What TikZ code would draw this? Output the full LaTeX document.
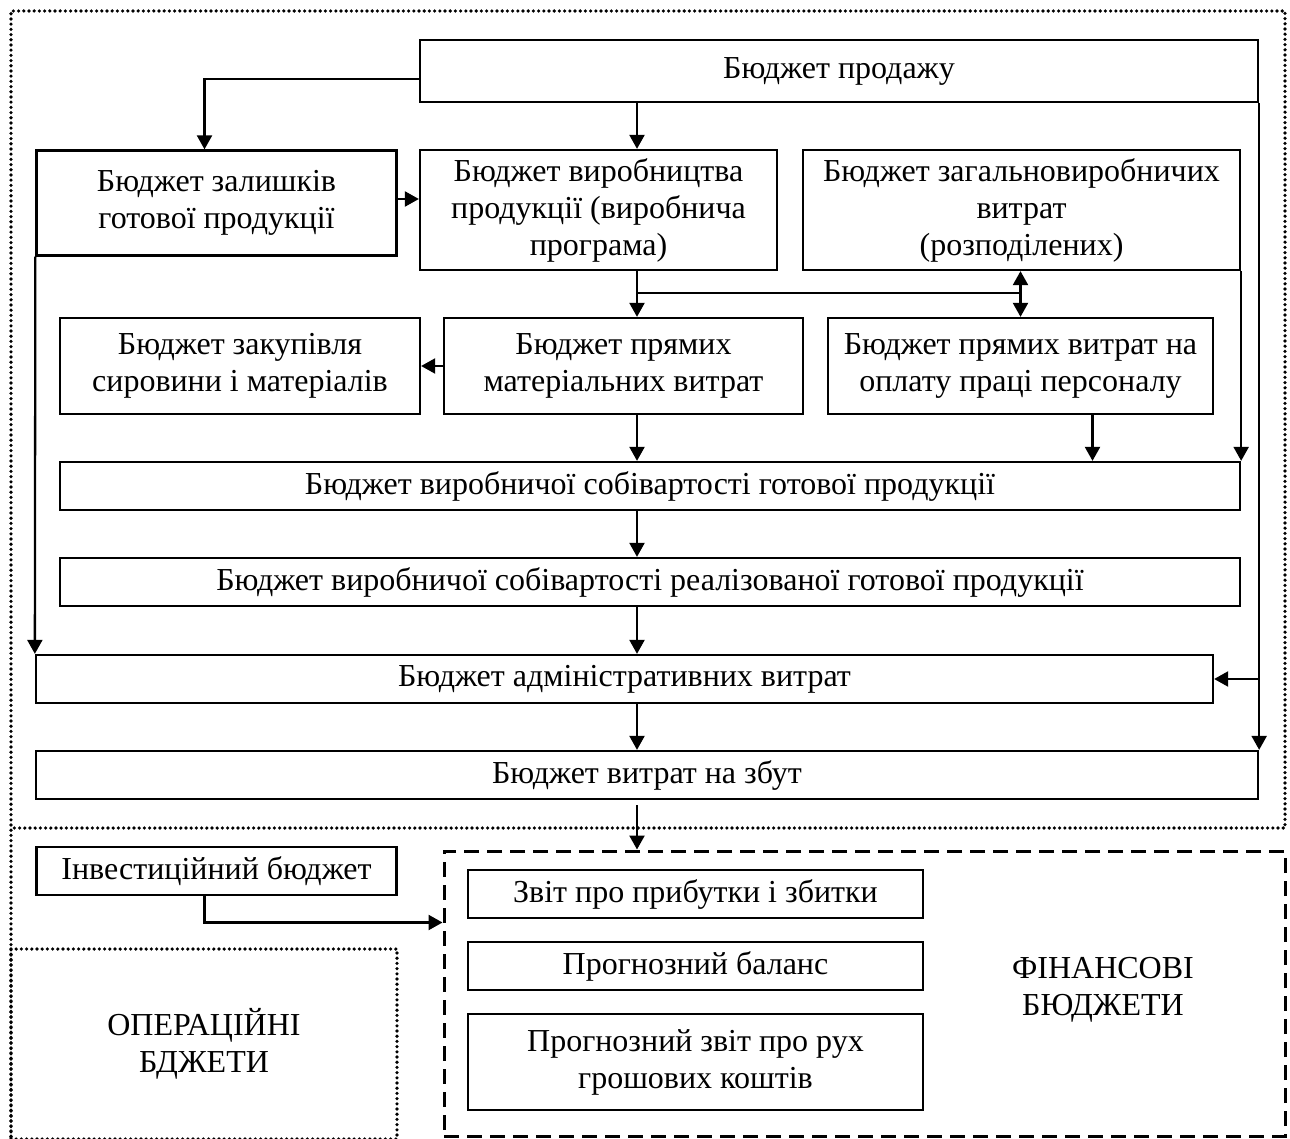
\documentclass[tikz,border=0pt]{standalone}
\usepackage{fontspec}
\setmainfont{Liberation Serif}
\usetikzlibrary{arrows.meta}

\begin{document}
\begin{tikzpicture}[
    x=0.5pt, y=-0.5pt,
    every node/.style={font=\fontsize{16}{18.5}\selectfont},
    box/.style={draw, line width=1.15pt, align=center, inner sep=0pt},
    wh/.style 2 args={minimum width=#1*0.5pt, minimum height=#2*0.5pt},
    arrow/.style={-{Triangle[length=7pt, width=7.5pt]}, line width=1.15pt},
    dblarrow/.style={arrow, {Triangle[length=7pt, width=7.5pt]}-{Triangle[length=7pt, width=7.5pt]}},
    dotline/.style={line width=1.8pt, dash pattern=on 0pt off 2.6pt, line cap=round},
    dashline/.style={line width=1.5pt, dash pattern=on 7.5pt off 4pt},
]
\useasboundingbox (0,0) rectangle (1290,1139);

% operating budgets (dotted frame)
\draw[dotline] (11,1137) -- (11,11) -- (1285,11) -- (1285,828) -- (11,828);
\node[box, dotline, wh={386}{190}] (oper) at (204,1044) {ОПЕРАЦІЙНІ\\БДЖЕТИ};

% financial budgets (dashed frame)
\node[draw, dashline, wh={841}{285}] (fin) at (864.5,993.5) {};
\node[align=center] (fintext) at (1103,990) {ФІНАНСОВІ\\БЮДЖЕТИ};

% nodes
\coordinate (axis) at (637,0);
\node[box, wh={838}{62}] (sales) at (839,71) {Бюджет продажу};
\node[box, wh={360}{105}] (stock) at (216.5,203) {Бюджет залишків\\готової продукції};
\node[box, wh={357}{120}] (prod) at (598.5,210) {Бюджет виробництва\\продукції (виробнича\\програма)};
\node[box, wh={437}{120}] (ovh) at (1021.5,210) {Бюджет загальновиробничих\\витрат\\(розподілених)};
\node[box, wh={360}{96}] (purch) at (240,366) {Бюджет закупівля\\сировини і матеріалів};
\node[box, wh={359}{96}] (mat) at (623.5,366) {Бюджет прямих\\матеріальних витрат};
\node[box, wh={385}{96}] (labour) at (1020.5,366) {Бюджет прямих витрат на\\оплату праці персоналу};
\node[box, wh={1180}{48}] (cogm) at (650,486) {Бюджет виробничої собівартості готової продукції};
\node[box, wh={1180}{48}] (cogs) at (650,582) {Бюджет виробничої собівартості реалізованої готової продукції};
\node[box, wh={1177}{48}] (admin) at (624.5,679) {Бюджет адміністративних витрат};
\node[box, wh={1222}{48}] (selling) at (647,775) {Бюджет витрат на збут};
\node[box, wh={360}{48}] (invest) at (216.5,871) {Інвестиційний бюджет};
\node[box, wh={455}{48}] (pl) at (695.5,894) {Звіт про прибутки і збитки};
\node[box, wh={455}{48}] (bal) at (695.5,966) {Прогнозний баланс};
\node[box, wh={455}{96}] (cash) at (695.5,1062) {Прогнозний звіт про рух\\грошових коштів};

% arrows from sales
\draw[arrow] ([yshift=-4pt]sales.west) -| ([xshift=-6pt]stock.north);
\draw[arrow] (sales.south -| axis) -- (prod.north -| axis);
\draw[arrow] (sales.south east) -- (selling.north east);
\draw[arrow] (admin.east -| sales.south east) -- (admin.east);

% production branch
\draw[arrow] ([yshift=2pt]stock.east) -- ([yshift=2pt]stock.east -| prod.west);
\coordinate (fork) at (637,293);
\draw[arrow] (prod.south -| axis) -- (mat.north -| axis);
\draw[line width=1.15pt] (fork) -- (fork -| labour.north);
\draw[dblarrow] (ovh.south -| labour.north) -- (labour.north);
\draw[arrow] (mat.west) -- (purch.east);

% into cost of goods manufactured
\draw[arrow] (mat.south -| axis) -- (cogm.north -| axis);
\draw[arrow] ([xshift=36pt]labour.south) -- ([xshift=36pt]labour.south |- cogm.north);
\draw[arrow] (ovh.south east) -- (cogm.north east);

% main chain down
\draw[arrow] (cogm.south -| axis) -- (cogs.north -| axis);
\draw[arrow] (cogs.south -| axis) -- (admin.north -| axis);
\draw[arrow] (admin.south -| axis) -- (selling.north -| axis);
\draw[arrow] (stock.south west) -- (admin.north west);

% into financial budgets
\draw[arrow] ([yshift=-2.5pt]selling.south -| axis) -- (fin.north -| axis);
\draw[arrow] ([xshift=-6pt]invest.south) |- ([yshift=-36.5pt]fin.north west);

\end{tikzpicture}
\end{document}
